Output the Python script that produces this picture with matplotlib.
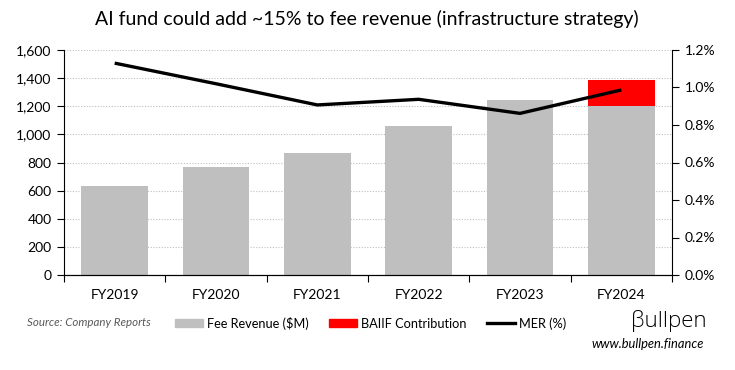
import matplotlib
matplotlib.use("Agg")
import matplotlib.pyplot as plt
from matplotlib.patches import Patch
from matplotlib.lines import Line2D
from matplotlib.ticker import FuncFormatter, MultipleLocator, FixedLocator

plt.rcParams['font.family'] = ['Lato', 'DejaVu Sans']

# data
years = ["FY2019", "FY2020", "FY2021", "FY2022", "FY2023", "FY2024"]
fee_revenue = [633, 768, 865, 1060, 1244, 1200]   # $M
baiif_contribution = [0, 0, 0, 0, 0, 187]         # $M
mer_pct = [1.13, 1.02, 0.907, 0.937, 0.862, 0.987]  # %

grey = "#BFBFBF"
red = "#FF0000"

fig = plt.figure(figsize=(7.35, 3.70), dpi=100)
ax = fig.add_axes([64/735, 95/370, 608/735, 225/370])
x = list(range(len(years)))

ax.bar(x, fee_revenue, width=0.66, color=grey, zorder=2)
ax.bar(x, baiif_contribution, width=0.66, bottom=fee_revenue, color=red, zorder=2)

ax.set_xlim(-0.5, len(years) - 0.5)
ax.set_ylim(0, 1600)
ax.yaxis.set_major_locator(MultipleLocator(200))
ax.yaxis.set_major_formatter(FuncFormatter(lambda v, p: f"{v:,.0f}"))
ax.grid(axis="y", color="#BFBFBF", linestyle=(0, (1, 1.5)), linewidth=0.8, zorder=0)

# category ticks between bars, labels centred under bars
ax.xaxis.set_major_locator(FixedLocator([i - 0.5 for i in range(len(years) + 1)]))
ax.xaxis.set_major_formatter(FuncFormatter(lambda v, p: ""))
ax.xaxis.set_minor_locator(FixedLocator(x))
ax.set_xticklabels(years, minor=True)
ax.tick_params(axis="x", which="minor", length=0, pad=10, labelsize=10)
ax.tick_params(axis="x", which="major", length=5, direction="out", width=0.8)
ax.tick_params(axis="y", length=5, direction="out", width=0.8, labelsize=10, pad=4)

ax.spines["top"].set_visible(False)
ax.spines["right"].set_visible(False)

ax2 = ax.twinx()
ax2.plot(x, mer_pct, color="black", linewidth=2.4, solid_capstyle="butt", zorder=3)
ax2.set_ylim(0, 1.2)
ax2.yaxis.set_major_locator(MultipleLocator(0.2))
ax2.yaxis.set_major_formatter(FuncFormatter(lambda v, p: f"{v:.1f}%"))
ax2.tick_params(axis="y", length=5, direction="out", width=0.8, labelsize=10, pad=4)
ax2.spines["top"].set_visible(False)
ax2.spines["left"].set_visible(False)

fig.text(367/735, 1 - 19/370, "AI fund could add ~15% to fee revenue (infrastructure strategy)",
         ha="center", va="center", fontsize=14)

fig.text(27/735, 1 - 323/370, "Source: Company Reports", ha="left", va="center",
         fontsize=8.3, style="italic", color="#595959")

handles = [Patch(color=grey), Patch(color=red), Line2D([0], [0], color="black", linewidth=2.4)]
labels = ["Fee Revenue ($M)", "BAIIF Contribution", "MER (%)"]
fig.legend(handles, labels, loc="center left", bbox_to_anchor=(175/735, 1 - 323/370),
           ncol=3, frameon=False, fontsize=9.2, handlelength=2.2, handleheight=0.6,
           handletextpad=0.3, columnspacing=1.6, borderpad=0, borderaxespad=0)

fig.text(707/735, 1 - 321/370, "\u03b2ullpen", ha="right", va="center", fontsize=16,
         family=["Open Sans", "DejaVu Sans"], fontweight="light")
fig.text(704/735, 1 - 344/370, "www.bullpen.finance", ha="right", va="center",
         fontsize=9.3, style="italic")

fig.savefig("out.png", dpi=100)
